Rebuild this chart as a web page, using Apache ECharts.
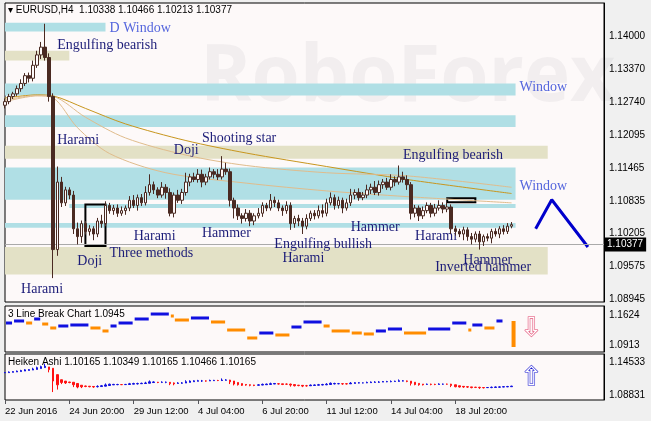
<!DOCTYPE html>
<html>
<head>
<meta charset="UTF-8">
<title>EURUSD H4</title>
<script src="https://cdn.jsdelivr.net/npm/echarts@6/dist/echarts.min.js"></script>
<style>body{margin:0;background:#f0f0f0}#chart{width:651px;height:421px}</style>
</head>
<body>
<div id="chart"></div>
<script>
// closes (open = previous close), wick sizes in pips
var closes = [1.1275,1.1285,1.1290,1.1300,1.1310,1.1325,1.1320,1.1345,1.1365,1.1380,1.1360,1.1285,1.0990,1.1120,1.1080,1.1105,1.1095,1.1030,1.1015,1.1040,
1.1025,1.1030,1.1020,1.1045,1.1040,1.1075,1.1065,1.1070,1.1060,1.1065,1.1070,1.1085,1.1075,1.1090,1.1080,1.1100,1.1115,1.1105,1.1095,1.1110,
1.1100,1.1060,1.1095,1.1085,1.1100,1.1120,1.1130,1.1125,1.1135,1.1120,1.1130,1.1140,1.1135,1.1130,1.1145,1.1140,1.1085,1.1070,1.1055,1.1050,
1.1060,1.1045,1.1055,1.1060,1.1075,1.1070,1.1085,1.1080,1.1070,1.1065,1.1075,1.1040,1.1050,1.1045,1.1035,1.1050,1.1060,1.1055,1.1065,1.1060,
1.1080,1.1090,1.1075,1.1085,1.1070,1.1080,1.1095,1.1100,1.1090,1.1095,1.1105,1.1110,1.1100,1.1115,1.1120,1.1110,1.1125,1.1120,1.1130,1.1125,
1.1115,1.1060,1.1070,1.1055,1.1065,1.1075,1.1060,1.1070,1.1075,1.1068,1.1072,1.1030,1.1025,1.1020,1.1028,1.1015,1.1010,1.1020,1.1005,1.1015,
1.1012,1.1025,1.1020,1.1030,1.1025,1.1035,1.1038];
var firstOpen = 1.1268;
var upWick = [6,5,4,6,8,5,6,9,8,10,45,8,6,30,10,6,5,8,12,6,5,7,5,6,12,8,5,6,7,8,5,8,10,6,7,12,20,6,5,10,
6,8,5,10,7,18,6,8,10,9,6,8,5,10,25,12,6,5,7,5,8,6,5,10,6,5,12,7,6,5,8,6,5,7,6,8,5,6,10,12,
8,10,6,7,5,8,12,6,8,6,10,7,12,8,6,8,10,6,22,10,8,5,6,5,8,6,5,8,10,6,8,5,6,5,6,5,7,5,6,4,
6,5,6,5,7,6,5];
var dnWick = [6,5,5,4,6,5,8,6,5,8,6,10,55,12,8,6,8,10,15,12,6,8,12,6,8,5,6,8,7,5,8,6,5,10,6,5,6,8,6,5,
12,6,8,5,7,6,8,5,6,10,6,5,8,6,5,6,12,20,8,10,6,10,8,5,7,6,5,8,6,10,6,12,8,10,15,6,5,7,5,8,
6,5,8,6,10,5,6,8,6,5,6,8,5,6,8,5,6,8,5,6,10,12,8,10,6,5,8,6,5,8,6,10,8,6,12,8,10,6,15,8,
6,10,5,8,6,5,4];

var xLabels = {0:'22 Jun 2016',16:'24 Jun 20:00',32:'29 Jun 12:00',48:'4 Jul 04:00',64:'6 Jul 20:00',80:'11 Jul 12:00',96:'14 Jul 04:00',112:'18 Jul 20:00'};
var nSlots = 150;
var priceTicks = [1.08945,1.09575,1.10205,1.10835,1.11465,1.12095,1.12740,1.13370,1.14000];

// moving averages (sparse points)
var maDarkIdx = [0,8,12,20,30,45,60,80,100,126];
var maDarkVal = [1.1282,1.1288,1.1286,1.1262,1.1232,1.1200,1.1176,1.1150,1.1125,1.1098];
var maLightIdx = [0,8,12,20,30,45,60,80,100,126];
var maLightVal = [1.1278,1.1287,1.1285,1.1245,1.1205,1.1172,1.1152,1.1138,1.1132,1.1110];
var maLight2Idx = [0,8,12,18,26,40,60,80,100,126];
var maLight2Val = [1.1275,1.1286,1.1282,1.1225,1.1175,1.1138,1.1118,1.1103,1.1092,1.1080];

// zones: [fromIdx, toIdx, priceTop, priceBottom, type]
var zones = [[0,24.5,1.1427,1.1410,'c'],[0,15.7,1.1373,1.1354,'b'],[0,126.7,1.1310,1.1287,'c'],[0,126.7,1.1249,1.1226,'c'],
[0,135,1.1190,1.1165,'b'],[0,126.7,1.1148,1.1086,'c'],[15.7,126.7,1.1078,1.1070,'c'],[0,126.7,1.1041,1.1032,'c'],[0,135,1.0995,1.0942,'b']];

// pattern labels: [text, idx, price, colour]
var notes = [['D Window',25.7,1.1417,'#5566dd'],['Engulfing bearish',13.2,1.1383,'#1c1c78'],['Window',127.5,1.1303,'#5566dd'],
['Harami',13.2,1.1201,'#1c1c78'],['Doji',41.5,1.1182,'#1c1c78'],['Shooting star',49,1.1205,'#1c1c78'],['Engulfing bearish',99.2,1.1171,'#1c1c78'],
['Window',127.5,1.1112,'#5566dd'],['Harami',32,1.1016,'#1c1c78'],['Hammer',49,1.1022,'#1c1c78'],['Engulfing bullish',66.7,1.1001,'#1c1c78'],
['Hammer',86.2,1.1033,'#1c1c78'],['Harami',102,1.1016,'#1c1c78'],['Harami',68.5,1.0974,'#1c1c78'],['Doji',17.5,1.0967,'#1c1c78'],
['Three methods',25.5,1.0982,'#1c1c78'],['Harami',4.2,1.0913,'#1c1c78'],['Hammer',114.2,1.0969,'#1c1c78'],['Inverted hammer',107,1.0955,'#1c1c78']];

// forecast zigzag
var zigIdx = [131.7,135.8,145];
var zigVal = [1.1030,1.1086,1.0995];

// 3 line break levels
var lbIdx = [0,2,5,7,9,11,13,16,21,24,26,28,32,36,41,42,46,51,55,60,63,67,71,74,79,81,86,89,92,95,99,105,111,115,116,119,122,124,127];
var lbVal = [1.1363,1.1434,1.1482,1.1434,1.1529,1.1410,1.1316,1.1363,1.1387,1.1316,1.1245,1.1363,1.1434,1.1529,1.1647,1.1600,1.1505,1.1553,1.1458,1.1268,1.1079,1.1197,1.1150,1.1339,1.1458,1.1363,1.1245,1.1197,1.1174,1.1245,1.1292,1.1197,1.1292,1.1434,1.1268,1.1387,1.1316,1.1482,1.0865];

var cats = [];
for (var i = 0; i < nSlots; i++) cats.push(xLabels[i] || '');
var ohlc = [], ha = [], prevO = firstOpen, haO = firstOpen, haC = firstOpen;
for (var i = 0; i < closes.length; i++) {
    var o = prevO, c = closes[i];
    var h = Math.max(o, c) + upWick[i] * 0.0001, l = Math.min(o, c) - dnWick[i] * 0.0001;
    ohlc.push([o, c, l, h]);
    var nc = (o + h + l + c) / 4, no = (haO + haC) / 2;
    ha.push([no, nc, Math.min(l, no, nc), Math.max(h, no, nc)]);
    haO = no; haC = nc; prevO = c;
}
function pts(ix, v) { return ix.map(function (x, k) { return [x, v[k]]; }); }
var lbData = [];
for (var k = 1; k < lbIdx.length; k++) lbData.push([lbIdx[k - 1], lbIdx[k], lbVal[k - 1], lbVal[k]]);

var zoneAreas = zones.map(function (z) {
    return [{xAxis: z[0], yAxis: z[2], itemStyle: {color: z[4] == 'c' ? '#b0dfe5' : '#e3e1c6'}}, {xAxis: z[1], yAxis: z[3]}];
});
zoneAreas.push([{xAxis: 19.5, yAxis: 1.1077, itemStyle: {color: 'rgba(0,0,0,0)', borderColor: '#000', borderWidth: 2}}, {xAxis: 25, yAxis: 1.0997}]);
zoneAreas.push([{xAxis: 109.5, yAxis: 1.1089, itemStyle: {color: '#fff', borderColor: '#000', borderWidth: 2}}, {xAxis: 116.7, yAxis: 1.1081}]);

var chart = echarts.init(document.getElementById('chart'));
var axisFont = {fontFamily: 'Liberation Sans', fontSize: 10, color: '#000'};
chart.setOption({
    animation: false,
    backgroundColor: '#f0f0f0',
    grid: [
        {left: 5, right: 47, top: 3, height: 299, show: true, backgroundColor: '#fdf9f9', borderColor: '#000'},
        {left: 5, right: 47, top: 306, height: 46, show: true, backgroundColor: '#fdf9f9', borderColor: '#000'},
        {left: 5, right: 47, top: 354, height: 46, show: true, backgroundColor: '#fdf9f9', borderColor: '#000'}
    ],
    xAxis: [0, 1, 2].map(function (g) {
        return {type: 'category', gridIndex: g, data: cats, boundaryGap: false,
            axisLine: {show: false}, axisTick: {show: g == 2, interval: function (i, v) { return v !== ''; }, length: 4},
            axisLabel: {show: g == 2, interval: function (i, v) { return v !== ''; }, align: 'left', margin: 6, fontFamily: 'Liberation Sans', fontSize: 9.5, color: '#000'},
            splitLine: {show: false}};
    }),
    yAxis: [
        {gridIndex: 0, position: 'right', min: 1.0889, max: 1.1465, scale: true, splitLine: {show: false},
            axisLine: {show: true, lineStyle: {color: '#000'}}, axisTick: {customValues: priceTicks, length: 3, inside: false},
            axisLabel: Object.assign({customValues: priceTicks, formatter: function (v) { return v.toFixed(5); }, margin: 5}, axisFont)},
        {gridIndex: 1, position: 'right', min: 1.0747, max: 1.1837, splitLine: {show: false},
            axisLine: {show: true, lineStyle: {color: '#000'}}, axisTick: {customValues: [1.0913, 1.1624]},
            axisLabel: Object.assign({customValues: [1.0913, 1.1624], formatter: function (v) { return v.toFixed(4); }, margin: 5}, axisFont)},
        {gridIndex: 2, position: 'right', min: 1.0798, max: 1.1591, splitLine: {show: false},
            axisLine: {show: true, lineStyle: {color: '#000'}}, axisTick: {customValues: [1.08831, 1.14533]},
            axisLabel: Object.assign({customValues: [1.08831, 1.14533], formatter: function (v) { return v.toFixed(5); }, margin: 5}, axisFont)}
    ],
    graphic: [
        {type: 'text', left: 200, top: 40, z: 0, style: {text: 'RoboForex', font: 'bold 78px "Open Sans"', fill: 'rgba(120,120,130,0.08)'}},
        {type: 'text', left: 8, top: 5, z: 100, style: {text: '▾ EURUSD,H4  1.10338 1.10466 1.10213 1.10377', font: '10px "Liberation Sans"', fill: '#000'}},
        {type: 'text', left: 8, top: 309, z: 100, style: {text: '3 Line Break Chart 1.0945', font: '10px "Liberation Sans"', fill: '#000'}},
        {type: 'text', left: 8, top: 357, z: 100, style: {text: 'Heiken Ashi 1.10165 1.10349 1.10165 1.10466 1.10165', font: '10px "Liberation Sans"', fill: '#000'}},
        {type: 'text', left: 520, top: 316, z: 100, style: {text: '⇩', font: '26px "DejaVu Sans"', fill: '#fff', stroke: '#e0406a', lineWidth: 1.2}},
        {type: 'text', left: 520, top: 365, z: 100, style: {text: '⇧', font: '26px "DejaVu Sans"', fill: '#fff', stroke: '#1010d0', lineWidth: 1.2}}
    ],
    series: [
        {type: 'line', xAxisIndex: 0, yAxisIndex: 0, data: [], z: 1,
            markArea: {silent: true, data: zoneAreas}},
        {type: 'candlestick', xAxisIndex: 0, yAxisIndex: 0, data: ohlc, barWidth: 3, z: 5,
            itemStyle: {color: '#fdf9f9', color0: '#4a2a22', borderColor: '#4a2a22', borderColor0: '#4a2a22', borderWidth: 1},
            markLine: {silent: true, symbol: 'none', data: [{yAxis: 1.10377}], lineStyle: {color: '#aaa', type: 'solid', width: 1},
                label: {position: 'end', formatter: '1.10377', backgroundColor: '#000', color: '#fff', fontFamily: 'Liberation Sans', fontSize: 10, padding: [2, 3], distance: 0}},
            markPoint: {symbol: 'circle', symbolSize: 0, silent: true,
                data: notes.map(function (n) {
                    return {coord: [n[1], n[2]], label: {show: true, position: 'right', distance: 0, formatter: n[0], color: n[3], fontFamily: 'Liberation Serif', fontSize: 14}};
                })}},
        {type: 'line', xAxisIndex: 0, yAxisIndex: 0, data: pts(maDarkIdx, maDarkVal), smooth: 0.3, showSymbol: false, lineStyle: {color: '#c8961e', width: 1}, z: 3},
        {type: 'line', xAxisIndex: 0, yAxisIndex: 0, data: pts(maLightIdx, maLightVal), smooth: 0.3, showSymbol: false, lineStyle: {color: '#e0bc8c', width: 1}, z: 3},
        {type: 'line', xAxisIndex: 0, yAxisIndex: 0, data: pts(maLight2Idx, maLight2Val), smooth: 0.3, showSymbol: false, lineStyle: {color: '#e0bc8c', width: 1}, z: 3},
        {type: 'line', xAxisIndex: 0, yAxisIndex: 0, data: pts(zigIdx, zigVal), showSymbol: false, lineStyle: {color: '#0000cc', width: 3}},
        {type: 'custom', xAxisIndex: 1, yAxisIndex: 1, data: lbData,
            renderItem: function (params, api) {
                var a = api.coord([api.value(0), api.value(2)]), b = api.coord([api.value(1), api.value(3)]);
                var up = api.value(3) > api.value(2);
                var d = Math.abs(a[1] - b[1]);
                var big = d > 10;
                var y = big ? Math.min(a[1], b[1]) : b[1] - 1.5, h = big ? d : 3;
                var x = big ? b[0] - 4 : a[0] + 1, w = big ? 4 : Math.max(3, b[0] - a[0] - 2);
                return {type: 'rect', shape: {x: x, y: y, width: w, height: h}, style: {fill: up ? '#1010e0' : '#ff8c00'}};
            }},
        {type: 'candlestick', xAxisIndex: 2, yAxisIndex: 2, data: ha, barWidth: 2,
            itemStyle: {color: '#1010e0', color0: '#ff1010', borderColor: '#1010e0', borderColor0: '#ff1010', borderWidth: 1}}
    ]
});
</script>
</body>
</html>
